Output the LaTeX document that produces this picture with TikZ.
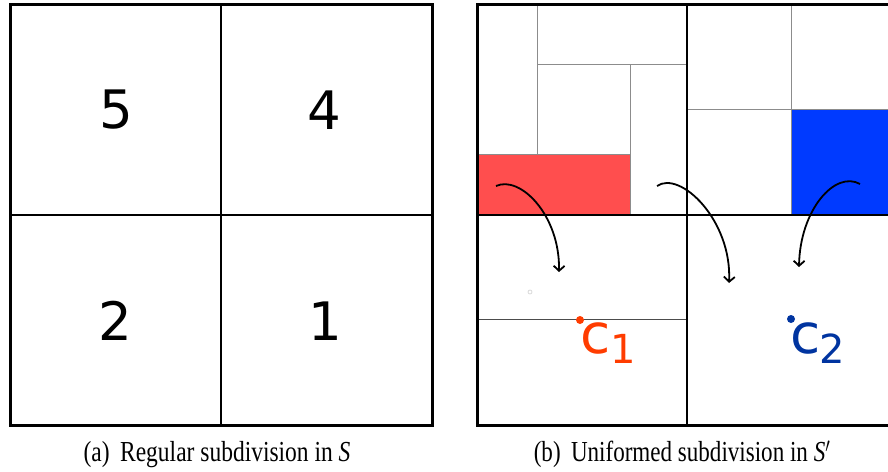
\documentclass[tikz,border=0pt]{standalone}
\usepackage{fontspec}
\setmainfont{Liberation Serif}
\newfontfamily\djv{DejaVu Sans}
\usetikzlibrary{arrows.meta}
\definecolor{redbox}{RGB}{255,78,78}
\definecolor{bluebox}{RGB}{0,58,255}
\definecolor{cone}{RGB}{255,60,0}
\definecolor{ctwo}{RGB}{0,52,160}
\tikzset{
  outer/.style={line width=3pt},
  mid/.style={line width=2pt},
  thin/.style={line width=1pt,draw=black!45},
  digit/.style={font=\djv\fontsize{53}{60}\selectfont,inner sep=0pt},
  cmain/.style={font=\djv\fontsize{55}{60}\selectfont,inner sep=0pt,anchor=base west},
  csub/.style={font=\djv\fontsize{40}{44}\selectfont,inner sep=0pt,anchor=base west},
  captext/.style={font=\fontsize{29}{32}\selectfont,inner sep=0pt,anchor=base},
  flow/.style={line width=1.8pt,-{Straight Barb[length=5pt,width=11pt]}}
}
\begin{document}
\begin{tikzpicture}[x=1pt,y=-1pt]
\useasboundingbox (0,0) rectangle (888,471);
\clip (0,0) rectangle (888,471);
% (a) regular subdivision
\draw[mid] (221,4) -- (221,425);
\draw[mid] (10,215) -- (432,215);
\draw[outer] (10,4.3) rectangle (432,425);
\node[digit] (n5) at (116,110) {5};
\node[digit] (n4) at (324,110) {4};
\node[digit] (n2) at (115,321) {2};
\node[digit] (n1) at (325,321) {1};
% (b) uniformed subdivision
\fill[redbox] (477,154) rectangle (630,214.7);
\fill[bluebox] (791,109) rectangle (900,214.7);
\draw[thin] (537,4) -- (537,154);
\draw[thin] (477,154) -- (630,154);
\draw[thin] (537,64.5) -- (687,64.5);
\draw[thin] (630,64.5) -- (630,214.7);
\draw[thin] (687,109) -- (900,109);
\draw[thin] (791,4) -- (791,214.7);
\draw[line width=1pt,draw=black!70] (477,319) -- (687,319);
\draw[mid] (687,4) -- (687,425);
\draw[mid] (477,214.7) -- (900,214.7);
\draw[outer] (477,4.3) rectangle (898,425);
\draw[black!15,line width=0.8pt] (530,292) circle (2);
% centres
\fill[cone] (580,320) circle (4);
\node[cmain,text=cone] (c1) at (580,353) {c};
\node[csub,text=cone] (c1s) at (610,363) {1};
\fill[ctwo] (791,319) circle (4);
\node[cmain,text=ctwo] (c2) at (790,353) {c};
\node[csub,text=ctwo] (c2s) at (819,363) {2};
% arrows
\coordinate (a1s) at (496,186); \coordinate (a1e) at (559,272);
\coordinate (a2s) at (657,186); \coordinate (a2e) at (729,283);
\coordinate (a3s) at (860,184); \coordinate (a3e) at (799,267);
\draw[flow] (a1s) .. controls (520,175) and (560,215) .. (a1e);
\draw[flow] (a2s) .. controls (680,170) and (732,220) .. (a2e);
\draw[flow] (a3s) .. controls (835,170) and (800,210) .. (a3e);
% captions
\node[captext] (capa) at (217,461.5) {\scalebox{0.81}[1]{(a)\hspace{0.45em}Regular subdivision in \textit{S}}};
\node[captext] (capb) at (682,461.5) {\scalebox{0.795}[1]{(b)\hspace{0.45em}Uniformed subdivision in \textit{S}$'$}};
\end{tikzpicture}
\end{document}
